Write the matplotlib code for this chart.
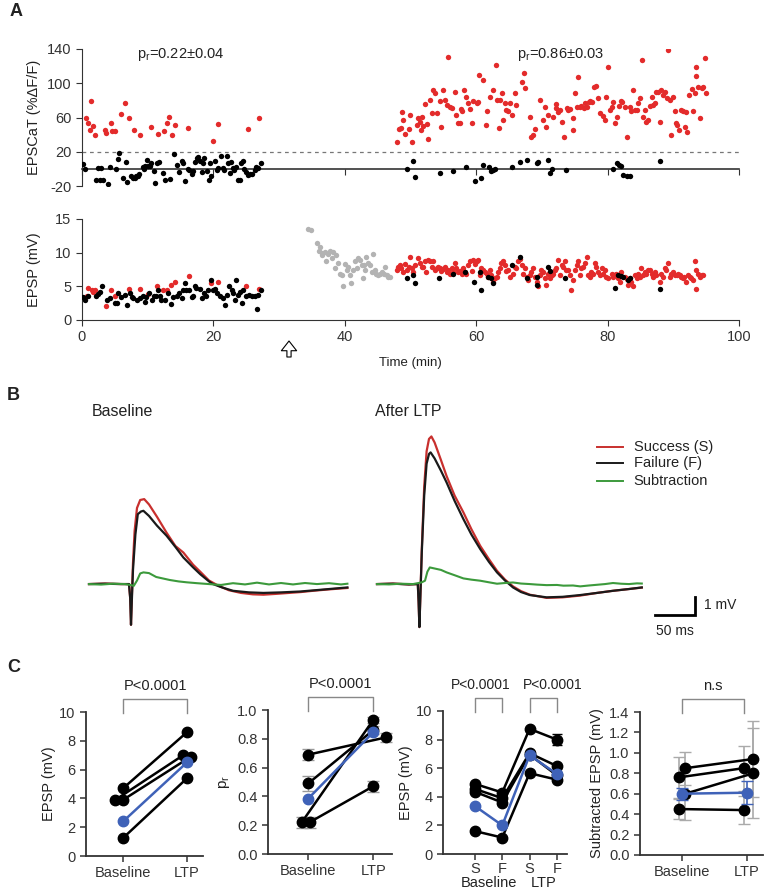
import numpy as np
import matplotlib
matplotlib.use('Agg')
import matplotlib.pyplot as plt
import matplotlib.transforms as mtransforms

plt.rcParams['font.family'] = ['Liberation Sans', 'DejaVu Sans']
plt.rcParams['axes.unicode_minus'] = False
plt.rcParams['text.color'] = '#222222'
plt.rcParams['axes.labelcolor'] = '#222222'
plt.rcParams['xtick.color'] = '#333333'
plt.rcParams['ytick.color'] = '#333333'
plt.rcParams['axes.edgecolor'] = '#333333'

RED = '#e32b2b'
TRACE_RED = '#c8302e'
GREEN = '#3c9a3c'
GREY = '#b3b3b3'
BLUE = '#3f62b8'

# ---------------- A: EPSCaT (time min, %dF/F) ----------------
catA_base_succ = [(0.65, 60), (0.9, 53), (1.17, 45), (1.4, 79), (1.67, 50), (1.93, 40), (3.45, 45), (3.7, 42),
                  (4.46, 54), (4.6, 44), (4.97, 44), (5.9, 64), (6.5, 77), (7.15, 60), (7.9, 45), (8.9, 40),
                  (10.45, 49), (11.5, 41), (12.5, 44), (12.95, 53), (13.2, 61), (13.75, 40), (14.2, 51),
                  (16.2, 48), (19.9, 33), (20.7, 52), (25.3, 47), (27.0, 59)]
catA_base_fail = [(0.15, 5.5), (0.41, -0.4), (2.18, -13.3), (2.43, 1.6), (2.69, -12.5), (2.94, 1.2), (3.2, -13.3),
                  (3.96, -17.2), (4.2, 2.3), (5.2, -0.4), (5.48, 11), (5.63, 18.8), (6.24, -10.6), (6.75, 7.8),
                  (6.9, -15.6), (7.5, -8.6), (7.76, -10.6), (8.0, -10.2), (8.27, -7.8), (8.52, -8.2), (8.6, -5.5),
                  (9.28, 2.3), (9.38, 0), (9.53, 3.9), (9.94, 10.2), (10.05, 3.1), (10.3, 3.9), (10.55, 7),
                  (10.96, -2), (11.16, -16), (11.47, 7), (11.67, 7.8), (12.33, -4.7), (12.69, -13.3),
                  (13.35, -12.1), (14.0, 16.8), (14.4, 5.1), (14.75, -3.1), (15.15, 9.4), (15.4, 7),
                  (15.66, -14.5), (16.07, 0), (16.27, -1.6), (16.68, -5.5), (16.93, -2.3), (17.2, 8.6),
                  (17.45, 12.5), (17.7, 14), (17.96, 9.4), (18.2, -3.9), (18.47, 7), (18.6, 12.9), (18.98, -2.7),
                  (19.3, -13.3), (19.5, 7), (19.7, -7.8), (20.2, 9), (20.5, -1.6), (20.7, 1.6), (21.2, 14.9),
                  (21.5, 1.2), (21.6, -1.6), (22.0, 14.9), (22.2, 7.4), (22.5, -4.3), (22.7, 8.6), (23.0, 1.2),
                  (23.2, -1.6), (23.5, 2.3), (23.7, -13.3), (24.0, -12.5), (24.2, 7), (24.5, 9), (24.7, 0.4),
                  (25.0, -3.9), (25.3, -6.6), (25.5, -5.5), (25.9, -5.9), (26.3, -1.6), (26.5, 2.3), (26.8, 1.2),
                  (27.2, 7)]
catA_ltp_succ = [(47.9, 30.9), (48.25, 46.1), (48.55, 47.3), (48.65, 66.9), (48.9, 57.1), (49.2, 40.7), (49.7, 46.1),
                 (49.9, 63), (50.2, 31.7), (51.0, 51.2), (51.2, 59), (51.4, 55.1), (51.6, 45.4), (51.8, 61),
                 (51.95, 50), (52.2, 75.5), (52.5, 52.4), (52.6, 34.8), (53.0, 80.5), (53.2, 64.9), (53.5, 92.3),
                 (53.7, 88.4), (54.0, 64.9), (54.5, 79.4), (54.7, 49.3), (55.0, 92.3), (55.2, 80.5), (55.5, 74.7),
                 (55.75, 130.2), (56.0, 72.7), (56.3, 70.8), (56.8, 90.3), (57.0, 63), (57.3, 53.2), (57.5, 53.2),
                 (57.7, 69.6), (57.9, 68), (58.1, 92.3), (58.5, 84.5), (58.8, 76.6), (59.05, 69.6), (59.3, 53.2),
                 (59.5, 79.4), (60.1, 76.6), (60.3, 78.6), (60.5, 109.9), (61.1, 104), (61.5, 51.2), (61.7, 68),
                 (62.1, 84.5), (62.6, 92.3), (63.0, 121.6), (63.2, 80.5), (63.4, 47.3), (63.6, 80.5), (63.9, 88.4),
                 (64.1, 57.1), (64.4, 76.6), (64.6, 68.8), (64.9, 68), (65.1, 76.6), (65.4, 63), (65.9, 88.4),
                 (66.1, 74.7), (66.9, 102), (67.2, 111.8), (67.4, 94.2), (68.2, 61), (68.4, 37.5), (68.7, 39.5),
                 (69.0, 46.1), (69.7, 80.5), (70.1, 57.1), (70.5, 72.7), (70.7, 48.5), (71.0, 63), (71.7, 61),
                 (72.1, 75.9), (72.2, 70.8), (72.5, 66.9), (72.8, 68.8), (73.1, 55.1), (73.3, 36.8), (73.8, 70.8),
                 (74.0, 68.8), (74.3, 69.6), (74.7, 59), (74.8, 45.4), (75.0, 88.4), (75.3, 72.7), (75.5, 107.1),
                 (75.8, 72.7), (76.0, 73.5), (76.4, 70.8), (76.6, 77.4), (76.8, 72.7), (77.1, 78.6), (77.3, 79.8),
                 (77.6, 78.6), (77.9, 96.2), (78.3, 97), (78.6, 82.5), (78.8, 64.9), (79.3, 61.8), (79.6, 57.1),
                 (79.8, 84.5), (80.1, 118.9), (80.3, 68.8), (80.6, 72.7), (80.85, 78.6), (81.1, 53.2), (81.4, 61),
                 (81.7, 73.5), (82.0, 79.4), (82.2, 78.2), (82.6, 72.7), (83.0, 36.8), (83.4, 72.7), (83.6, 68),
                 (83.9, 92.3), (84.1, 68.8), (84.4, 68.8), (84.65, 76.6), (84.9, 82.5), (85.2, 127.5), (85.4, 61),
                 (85.7, 68.8), (85.9, 55.1), (86.2, 57.1), (86.4, 73.5), (86.7, 84.5), (86.9, 74.7), (87.2, 76.6),
                 (87.4, 90.3), (87.7, 90.3), (87.9, 55.1), (88.2, 92.3), (88.5, 86.4), (88.7, 90.3), (89.0, 82.5),
                 (89.2, 139.2), (89.5, 80.5), (89.7, 39.5), (90.0, 83.7), (90.2, 68), (90.4, 53.2), (90.6, 51.2),
                 (90.9, 45.4), (91.2, 68.8), (91.5, 68), (91.75, 49.3), (92.0, 66.9), (92.1, 43.4), (92.4, 86.4),
                 (92.8, 93.1), (93.0, 68), (93.3, 88.4), (93.4, 118.5), (93.5, 107.9), (93.8, 96.2), (94.0, 59),
                 (94.3, 94.2), (94.5, 96.2), (94.8, 129.4), (95.05, 88.4)]
catA_ltp_fail = [(49.4, -0.4), (50.4, 9), (50.7, -9.4), (54.5, -4.3), (56.4, -2.7), (58.4, 2.3), (59.8, -14.1),
                 (60.7, -10.2), (61.0, 5.1), (62.0, 2.3), (62.3, -2.7), (62.6, -1.6), (62.85, 0.4), (65.4, 2.3),
                 (66.65, 8.2), (67.7, 10.9), (69.2, 6.3), (69.4, 8.2), (71.0, 10.2), (71.2, -4.3), (71.5, 0.4),
                 (73.6, -1.6), (80.85, -0.4), (81.5, 6.3), (81.8, 4.3), (82.0, 3.5), (82.4, -7.4), (82.9, -8.2),
                 (83.4, -8.6), (87.9, 9.4)]

# ---------------- A: EPSP (time min, mV) ----------------
epsp_base_succ = [(0.8, 3.5), (0.96, 4.7), (1.47, 4.4), (1.72, 4.2), (1.98, 4.5), (3.65, 2.1), (4.4, 4.5),
                  (5.0, 3.5), (7.2, 4.6), (8.8, 4.6), (10.1, 3.9), (11.4, 5.0), (12.4, 4.5), (12.9, 4.5),
                  (13.6, 5.2), (14.1, 5.7), (16.3, 6.5), (19.7, 5.5), (20.7, 5.6), (25.0, 5.0), (27.0, 4.6)]
epsp_base_fail = [(0.2, 3.4), (0.46, 3.0), (0.96, 3.5), (2.2, 3.6), (2.5, 3.9), (2.7, 4.2), (3.1, 5.1), (3.85, 3.0),
                  (4.3, 3.2), (5.0, 2.5), (5.3, 2.5), (5.5, 4.0), (6.0, 3.4), (6.5, 3.7), (6.9, 2.2), (7.3, 4.0),
                  (7.55, 3.4), (7.8, 3.2), (8.3, 3.0), (8.8, 3.2), (9.3, 3.5), (9.6, 2.7), (9.8, 3.4), (10.2, 4.0),
                  (10.6, 3.0), (10.95, 3.5), (11.25, 3.5), (11.6, 4.5), (11.9, 3.5), (12.1, 2.9), (12.6, 3.0),
                  (13.1, 4.0), (13.5, 2.4), (13.9, 3.4), (14.4, 3.5), (14.8, 4.0), (15.2, 3.2), (15.4, 4.5),
                  (15.7, 5.5), (15.9, 4.5), (16.3, 4.5), (16.7, 3.4), (16.9, 3.5), (17.2, 5.0), (17.4, 4.7),
                  (17.9, 4.6), (18.2, 3.2), (18.6, 4.0), (18.9, 3.6), (19.2, 4.5), (19.6, 6.0), (20.0, 4.5),
                  (20.2, 4.6), (20.6, 4.0), (21.0, 3.5), (21.4, 3.2), (21.75, 2.3), (22.0, 3.7), (22.4, 5.0),
                  (22.8, 4.5), (23.0, 4.0), (23.3, 3.0), (23.5, 6.0), (23.8, 3.7), (24.0, 4.2), (24.3, 2.5),
                  (24.5, 4.5), (24.9, 3.5), (25.45, 3.7), (25.8, 3.5), (26.3, 3.5), (26.6, 1.7), (26.8, 3.7),
                  (27.3, 4.4)]
epsp_induction = [(34.45, 13.5), (34.8, 13.4), (35.7, 11.4), (36.0, 10.2), (36.3, 10.9), (36.5, 9.7), (36.6, 9.9),
                  (37.0, 10.1), (37.2, 8.7), (37.5, 9.8), (37.7, 10.3), (38.0, 9.2), (38.25, 10.1), (38.5, 7.7),
                  (38.7, 9.6), (38.9, 8.4), (39.3, 6.9), (39.5, 6.7), (39.7, 5.1), (40.0, 8.3), (40.3, 7.4),
                  (40.5, 7.9), (40.8, 6.7), (40.9, 5.5), (41.3, 7.4), (41.5, 8.7), (41.8, 7.7), (42.0, 9.2),
                  (42.3, 8.9), (42.6, 8.2), (42.7, 6.2), (42.9, 8.2), (43.1, 7.4), (43.3, 9.4), (43.6, 8.4),
                  (43.8, 8.2), (44.1, 7.2), (44.3, 9.8), (44.6, 7.4), (44.8, 6.9), (45.1, 6.7), (45.35, 6.9),
                  (45.6, 7.2), (45.9, 6.9), (46.1, 7.9), (46.4, 6.7), (46.6, 6.4), (46.9, 6.4)]
epsp_ltp_succ = [(47.9, 7.4), (48.1, 7.9), (48.4, 8.2), (48.6, 7.7), (48.9, 7.2), (49.15, 8.3), (49.4, 7.4),
                 (49.7, 7.8), (49.9, 9.4), (50.2, 7.7), (50.4, 7.2), (50.7, 8.2), (51.2, 9.2), (51.4, 8.4),
                 (51.7, 7.8), (51.9, 7.9), (52.2, 8.7), (52.4, 7.2), (52.7, 8.9), (52.95, 8.8), (53.2, 7.9),
                 (53.5, 8.8), (53.7, 7.4), (54.0, 7.7), (54.2, 7.9), (54.5, 7.7), (54.7, 7.3), (55.0, 7.6),
                 (55.2, 7.8), (55.5, 7.2), (55.7, 7.4), (56.0, 6.9), (56.25, 7.7), (56.5, 7.2), (56.8, 8.4),
                 (57.0, 7.7), (57.3, 7.1), (57.5, 7.3), (57.8, 6.8), (58.0, 7.7), (58.3, 7.2), (58.5, 6.8),
                 (58.8, 8.2), (59.0, 8.7), (59.3, 7.3), (59.5, 8.9), (59.8, 8.3), (60.05, 8.8), (60.3, 8.9),
                 (60.6, 6.7), (60.8, 7.7), (61.1, 7.4), (61.3, 7.1), (61.6, 6.9), (61.8, 6.4), (62.1, 7.4),
                 (62.3, 6.7), (62.6, 5.7), (62.8, 6.2), (63.1, 6.4), (63.35, 7.1), (63.6, 7.7), (63.85, 8.4),
                 (64.1, 8.7), (64.4, 8.2), (64.6, 7.3), (64.9, 7.4), (65.1, 6.4), (65.6, 6.9), (65.9, 7.9),
                 (66.1, 7.7), (66.4, 8.7), (66.6, 9.1), (66.9, 8.2), (67.1, 6.9), (67.4, 7.7), (67.7, 6.4),
                 (67.9, 6.0), (68.2, 6.7), (68.4, 7.2), (68.7, 7.7), (68.9, 6.4), (69.2, 5.7), (69.4, 5.0),
                 (69.7, 6.7), (69.9, 7.4), (70.2, 7.2), (70.4, 6.2), (70.7, 5.2), (70.95, 6.9), (71.2, 6.2),
                 (71.5, 6.7), (71.7, 6.9), (72.0, 7.4), (72.2, 7.7), (72.5, 8.9), (72.7, 6.7), (73.0, 8.2),
                 (73.2, 7.9), (73.5, 8.7), (73.7, 7.4), (74.0, 7.4), (74.25, 6.7), (74.5, 4.5), (74.8, 6.0),
                 (75.0, 7.4), (75.3, 8.2), (75.5, 8.7), (75.8, 6.7), (76.0, 7.7), (76.3, 7.9), (76.5, 8.4),
                 (76.8, 9.3), (77.0, 6.7), (77.3, 6.4), (77.5, 7.2), (77.8, 6.9), (78.05, 8.4), (78.3, 7.9),
                 (78.6, 7.2), (78.8, 6.7), (79.1, 7.7), (79.3, 6.9), (79.6, 7.4), (79.8, 6.4), (80.1, 6.2),
                 (80.6, 6.9), (80.8, 6.4), (81.1, 6.7), (81.35, 6.9), (81.6, 6.3), (81.85, 5.7), (82.1, 7.2),
                 (82.6, 6.4), (82.9, 6.1), (83.1, 5.2), (83.4, 6.2), (83.6, 5.7), (83.9, 5.0), (84.1, 6.7),
                 (84.4, 6.2), (84.6, 6.9), (84.9, 6.4), (85.1, 7.7), (85.4, 6.7), (85.65, 7.2), (85.9, 6.9),
                 (86.2, 7.4), (86.4, 7.4), (86.7, 6.9), (86.9, 6.4), (87.2, 7.2), (87.4, 6.7), (87.9, 5.7),
                 (88.2, 6.9), (88.4, 6.4), (88.7, 7.7), (88.95, 7.4), (89.2, 8.4), (89.5, 6.4), (89.7, 6.9),
                 (90.0, 7.2), (90.2, 6.7), (90.5, 6.7), (90.7, 6.9), (91.0, 6.7), (91.2, 6.4), (91.5, 6.2),
                 (91.7, 6.4), (92.0, 5.7), (92.2, 6.7), (92.5, 6.4), (92.75, 6.2), (93.0, 6.0), (93.3, 8.7),
                 (93.4, 4.6), (93.5, 7.4), (93.8, 6.9), (94.0, 6.4), (94.3, 6.7), (94.5, 6.7)]
epsp_ltp_fail = [(49.4, 6.3), (50.4, 6.7), (50.7, 5.5), (54.4, 6.2), (56.4, 6.9), (58.3, 7.2), (59.6, 5.7),
                 (60.8, 4.5), (60.6, 7.2), (61.8, 6.4), (62.2, 6.2), (62.6, 5.5), (65.4, 8.2), (66.6, 9.3),
                 (67.7, 6.2), (69.2, 6.4), (69.3, 5.2), (71.0, 7.8), (71.2, 7.3), (73.5, 6.2), (81.1, 4.8),
                 (81.6, 6.7), (82.1, 6.6), (82.4, 6.4), (83.1, 6.0), (83.4, 6.2), (87.9, 4.6)]

# ---------------- B: averaged traces (ms from trace start, mV) ----------------
base_succ_trace = [(0, 0), (20, 0.03), (40, 0), (50, 0), (51.5, -0.8), (52.5, -2.3), (53.5, -0.8), (55, 1.2),
                   (57, 3.0), (60, 4.3), (64, 4.75), (69, 4.8), (75, 4.5), (85, 3.8), (97, 2.9), (108, 2.15),
                   (118, 1.78), (130, 1.1), (139, 0.7), (150, 0.2), (162, -0.1), (175, -0.35), (190, -0.5),
                   (205, -0.58), (218, -0.6), (235, -0.55), (250, -0.5), (265, -0.45), (280, -0.38), (300, -0.3),
                   (323, -0.22)]
base_fail_trace = [(0, 0), (20, 0.02), (40, 0), (50, 0), (51.5, -0.8), (52.5, -2.3), (53.5, -1.0), (55, 0.8),
                   (58, 2.8), (61, 3.95), (65, 4.1), (68, 4.14), (75, 3.85), (85, 3.3), (97, 2.73), (108, 2.1),
                   (118, 1.5), (130, 0.95), (139, 0.56), (150, 0.15), (155, 0), (167, -0.2), (180, -0.38),
                   (200, -0.47), (218, -0.5), (240, -0.47), (264, -0.42), (290, -0.32), (323, -0.19)]
base_sub_trace = [(0, 0), (15, -0.03), (30, 0.02), (45, 0), (52, -0.05), (56, -0.1), (60, 0.2), (64, 0.6),
                  (68, 0.66), (75, 0.62), (84, 0.4), (92, 0.32), (101, 0.23), (112, 0.15), (122, 0.1), (135, 0.05),
                  (150, 0), (165, -0.05), (180, 0.05), (195, -0.02), (210, 0.08), (225, -0.02), (240, 0.06),
                  (255, -0.02), (270, 0.06), (285, 0), (300, 0.05), (315, -0.02), (323, 0.02)]
ltp_succ_trace = [(0, 0), (20, 0.03), (40, -0.02), (51, 0), (52, -1.0), (53, -2.43), (54, -1.0), (56, 2.0),
                  (59, 5.5), (62, 7.5), (65, 8.2), (68, 8.34), (72, 8.0), (80, 7.0), (87, 6.1), (97, 5.0),
                  (108, 4.05), (118, 3.1), (129, 2.16), (140, 1.4), (150, 0.75), (160, 0.25), (170, -0.13),
                  (180, -0.4), (191, -0.6), (212, -0.78), (232, -0.75), (254, -0.65), (275, -0.5), (295, -0.38),
                  (315, -0.28), (331, -0.2)]
ltp_fail_trace = [(0, 0), (20, 0.02), (40, -0.02), (51, 0), (52, -1.0), (53, -2.43), (54, -1.0), (56, 1.8),
                  (59, 5.0), (62, 6.8), (65, 7.35), (67, 7.44), (72, 7.1), (80, 6.4), (87, 5.74), (97, 4.7),
                  (108, 3.67), (118, 2.8), (129, 1.98), (140, 1.25), (150, 0.66), (160, 0.2), (170, -0.19),
                  (180, -0.45), (191, -0.62), (212, -0.75), (232, -0.72), (254, -0.62), (275, -0.5),
                  (295, -0.38), (315, -0.28), (331, -0.19)]
ltp_sub_trace = [(0, 0), (15, -0.02), (30, 0.02), (45, 0), (52, 0.06), (56, 0.1), (60, 0.19), (63, 0.7),
                 (66, 0.94), (72, 0.88), (80, 0.8), (87, 0.66), (97, 0.5), (108, 0.32), (118, 0.25), (129, 0.19),
                 (140, 0.1), (150, 0.02), (160, 0.06), (170, 0.09), (180, 0.03), (191, 0), (200, -0.03),
                 (212, -0.06), (225, -0.05), (233, -0.09), (245, -0.08), (254, -0.13), (265, -0.08),
                 (275, -0.04), (285, 0.0), (295, 0.06), (305, 0.02), (315, 0.0), (325, 0.04), (331, 0.03)]

# ---------------- C: summary ----------------
c1_base = [4.7, 3.9, 3.9, 1.25]
c1_ltp = [8.6, 7.0, 6.9, 5.4]
c1_mean = [2.4, 6.5]

c2_base = [0.69, 0.49, 0.22, 0.22]
c2_base_err = [0.04, 0.05, 0.04, 0.04]
c2_ltp = [0.81, 0.86, 0.93, 0.47]
c2_ltp_err = [0.03, 0.03, 0.02, 0.04]
c2_mean = [0.385, 0.845]

c3_labels = ['S', 'F', 'S', 'F']
c3_cells = [[4.9, 4.3, 8.75, 8.0],
            [4.55, 3.9, 7.05, 6.15],
            [4.35, 3.6, 6.95, 5.5],
            [1.6, 1.15, 5.65, 5.2]]
c3_ltp_f_err = [0.4, 0, 0, 0]
c3_mean = [3.35, 2.0, 6.9, 5.6]

c4_base = [0.85, 0.76, 0.60, 0.45]
c4_base_err = [0.16, 0.20, 0.26, 0.10]
c4_ltp = [0.94, 0.85, 0.80, 0.44]
c4_ltp_err = [0.37, 0.22, 0.44, 0.14]
c4_mean = [0.60, 0.61]
c4_mean_err = [0.06, 0.11]

W, H = 767, 891
fig = plt.figure(figsize=(W / 100, H / 100), dpi=100)


def px_axes(l, t, r, b):
    return fig.add_axes([l / W, 1 - b / H, (r - l) / W, (b - t) / H])


def arr(pairs):
    a = np.array(pairs, dtype=float)
    return a[:, 0], a[:, 1]


DOT = 15

# ---- A top ----
ax = px_axes(82, 49, 739, 186)
for data, c in [(catA_base_succ, RED), (catA_ltp_succ, RED), (catA_base_fail, 'black'), (catA_ltp_fail, 'black')]:
    x, y = arr(data)
    ax.scatter(x, y, s=DOT, color=c, linewidths=0, zorder=3)
ax.axhline(20, color='#777777', lw=0.9, ls=(0, (3, 3)))
ax.set_xlim(0, 100)
ax.set_ylim(-20, 140)
ax.spines['top'].set_visible(False)
ax.spines['right'].set_visible(False)
ax.spines['bottom'].set_position(('data', 0))
ax.spines['bottom'].set_linewidth(1.2)
ax.set_xticks([0, 20, 40, 60, 80, 100])
ax.set_xticklabels([])
ax.set_yticks([-20, 20, 60, 100, 140])
ax.tick_params(labelsize=10.5, length=4)
ax.set_ylabel('EPSCaT (%ΔF/F)', fontsize=10.5, labelpad=4)
ax.text(15, 134, r'p$_\mathregular{r}$=0.22±0.04', ha='center', va='center', fontsize=10.5)
ax.text(72.8, 134, r'p$_\mathregular{r}$=0.86±0.03', ha='center', va='center', fontsize=10.5)

# ---- A bottom ----
ax = px_axes(82, 219, 739, 320)
for data, c in [(epsp_base_succ, RED), (epsp_base_fail, 'black'), (epsp_induction, GREY),
                (epsp_ltp_succ, RED), (epsp_ltp_fail, 'black')]:
    x, y = arr(data)
    ax.scatter(x, y, s=DOT, color=c, linewidths=0, zorder=3)
ax.set_xlim(0, 100)
ax.set_ylim(0, 15)
ax.spines['top'].set_visible(False)
ax.spines['right'].set_visible(False)
ax.set_xticks([0, 20, 40, 60, 80, 100])
ax.set_yticks([0, 5, 10, 15])
ax.tick_params(labelsize=10.5, length=4)
ax.set_ylabel('EPSP (mV)', fontsize=10.5, labelpad=10)
ax.set_xlabel('Time (min)', fontsize=9.5, labelpad=9)
ax.annotate('', xy=(289 / W, 1 - 341 / H), xytext=(289 / W, 1 - 357 / H), xycoords='figure fraction',
            textcoords='figure fraction',
            arrowprops=dict(facecolor='white', edgecolor='black', width=3, headwidth=11, headlength=7, lw=0.8))

# ---- B ----
ax = px_axes(80, 420, 720, 640)
ax.set_xlim(0, 800)
ax.set_ylim(-3.16, 9.27)
ax.axis('off')
for traces, off in [((base_sub_trace, base_succ_trace, base_fail_trace), 11.25),
                    ((ltp_sub_trace, ltp_succ_trace, ltp_fail_trace), 371.25)]:
    sub, succ, fail = traces
    x, y = arr(succ)
    ax.plot(x + off, y, color=TRACE_RED, lw=1.6)
    x, y = arr(fail)
    ax.plot(x + off, y, color='#1a1a1a', lw=1.6)
    x, y = arr(sub)
    ax.plot(x + off, y, color=GREEN, lw=1.5)
fig.text(92 / W, 1 - 411 / H, 'Baseline', fontsize=11.5, va='center')
fig.text(375 / W, 1 - 411 / H, 'After LTP', fontsize=11.5, va='center')
for lab, c, yy in [('Success (S)', TRACE_RED, 7.74), ('Failure (F)', '#1a1a1a', 6.84), ('Subtraction', GREEN, 5.82)]:
    ax.plot([646, 679], [yy, yy], color=c, lw=1.4)
    ax.text(692, yy, lab, fontsize=10.5, va='center')
ax.plot([718.75, 768.75, 768.75], [-1.75, -1.75, -0.75], color='black', lw=2, solid_joinstyle='miter')
ax.text(780, -1.2, '1 mV', fontsize=10, va='center')
ax.text(743.75, -2.65, '50 ms', fontsize=10, va='center', ha='center')


def style_c(ax):
    ax.spines['top'].set_visible(False)
    ax.spines['right'].set_visible(False)
    ax.spines['left'].set_linewidth(1.3)
    ax.spines['bottom'].set_linewidth(1.3)
    ax.tick_params(labelsize=10.5, length=4, width=1.1)


def bracket(ax, x0, x1, text, top_px=13, h=144, tx=None, fs=10.5):
    tr = mtransforms.blended_transform_factory(ax.transData, ax.transAxes)
    yt = 1 + top_px / h
    ax.plot([x0, x0, x1, x1], [0.99, yt, yt, 0.99], color='#888888', lw=1, transform=tr, clip_on=False)
    if tx is None:
        tx = (x0 + x1) / 2
    ax.text(tx, yt + 13 / h, text, ha='center', va='center', fontsize=fs, transform=tr)


MS = 7.5

# ---- C1 ----
ax = px_axes(86, 712, 203, 856)
jit_b = [0, -0.12, 0, 0]
jit_l = [0, -0.06, 0.06, 0]
for i in range(len(c1_base)):
    ax.plot([0 + jit_b[i], 1 + jit_l[i]], [c1_base[i], c1_ltp[i]], '-o', color='black', lw=1.8, ms=MS)
ax.plot([0, 1], c1_mean, '-o', color=BLUE, lw=1.8, ms=MS, zorder=4)
ax.set_xlim(-0.58, 1.25)
ax.set_ylim(0, 10)
ax.set_yticks([0, 2, 4, 6, 8, 10])
ax.set_xticks([0, 1])
ax.set_xticklabels(['Baseline', 'LTP'])
ax.set_ylabel('EPSP (mV)', fontsize=10.5, labelpad=2)
style_c(ax)
bracket(ax, 0, 1, 'P<0.0001')

# ---- C2 ----
ax = px_axes(268, 710, 392, 854)
jit_b = [0, 0, -0.1, 0.02]
jit_l = [0.2, 0, 0, 0]
for i in range(len(c2_base)):
    xb, xl = 0 + jit_b[i], 1 + jit_l[i]
    ax.errorbar([xb, xl], [c2_base[i], c2_ltp[i]], yerr=[c2_base_err[i], c2_ltp_err[i]], fmt='none',
                ecolor='#999999', elinewidth=1, capsize=4, zorder=1)
    ax.plot([xb, xl], [c2_base[i], c2_ltp[i]], '-o', color='black', lw=1.8, ms=MS, zorder=2)
ax.plot([0, 1], c2_mean, '-o', color=BLUE, lw=1.8, ms=MS, zorder=4)
ax.set_xlim(-0.62, 1.29)
ax.set_ylim(0, 1.0)
ax.set_yticks([0, 0.2, 0.4, 0.6, 0.8, 1.0])
ax.set_yticklabels(['0.0', '0.2', '0.4', '0.6', '0.8', '1.0'])
ax.set_xticks([0, 1])
ax.set_xticklabels(['Baseline', 'LTP'])
ax.set_ylabel(r'p$_\mathregular{r}$', fontsize=11)
style_c(ax)
bracket(ax, 0, 1, 'P<0.0001')

# ---- C3 ----
ax = px_axes(443, 711, 567, 854)
xs = np.arange(4)
for i, row in enumerate(c3_cells):
    ax.plot(xs, row, '-o', color='black', lw=1.8, ms=MS, zorder=2)
    if c3_ltp_f_err[i] > 0:
        ax.errorbar([3], [row[3]], yerr=[c3_ltp_f_err[i]], fmt='none', ecolor='black', elinewidth=1,
                    capsize=3.5, zorder=1)
ax.plot(xs, c3_mean, '-o', color=BLUE, lw=1.8, ms=MS, zorder=4)
ax.set_xlim(-1.17, 3.37)
ax.set_ylim(0, 10)
ax.set_yticks([0, 2, 4, 6, 8, 10])
ax.set_xticks(xs)
ax.set_xticklabels(c3_labels)
ax.set_ylabel('EPSP (mV)', fontsize=10.5, labelpad=2)
style_c(ax)
ax.tick_params(axis='x', pad=1.5)
tr = mtransforms.blended_transform_factory(ax.transData, ax.transAxes)
ax.text(0.5, -0.205, 'Baseline', ha='center', va='center', fontsize=10.5, transform=tr)
ax.text(2.5, -0.205, 'LTP', ha='center', va='center', fontsize=10.5, transform=tr)
bracket(ax, 0, 1, 'P<0.0001', h=143, tx=0.2, fs=10)
bracket(ax, 2, 3, 'P<0.0001', h=143, tx=2.84, fs=10)

# ---- C4 ----
ax = px_axes(640, 712, 763, 855)
jit_b = [0.05, -0.05, 0.05, -0.05]
jit_l = [0.1, -0.05, 0.1, -0.05]
for i in range(len(c4_base)):
    xb, xl = 0 + jit_b[i], 1 + jit_l[i]
    ax.errorbar([xb, xl], [c4_base[i], c4_ltp[i]], yerr=[c4_base_err[i], c4_ltp_err[i]], fmt='none',
                ecolor='#aaaaaa', elinewidth=1.2, capsize=4, zorder=1)
    ax.plot([xb, xl], [c4_base[i], c4_ltp[i]], '-o', color='black', lw=1.8, ms=MS, zorder=2)
ax.errorbar([0, 1], c4_mean, yerr=c4_mean_err, fmt='-o', color=BLUE, ecolor=BLUE, lw=1.8, ms=MS,
            elinewidth=1.2, capsize=4, zorder=4)
ax.set_xlim(-0.65, 1.25)
ax.set_ylim(0, 1.4)
ax.set_yticks(np.arange(0, 1.41, 0.2))
ax.set_yticklabels(['0.0', '0.2', '0.4', '0.6', '0.8', '1.0', '1.2', '1.4'])
ax.set_xticks([0, 1])
ax.set_xticklabels(['Baseline', 'LTP'])
ax.set_ylabel('Subtracted EPSP (mV)', fontsize=10.5)
style_c(ax)
bracket(ax, 0, 0.95, 'n.s', h=143)

# panel letters
fig.text(10 / W, 1 - 12 / H, 'A', fontsize=13, fontweight='bold', va='center')
fig.text(7 / W, 1 - 395 / H, 'B', fontsize=13, fontweight='bold', va='center')
fig.text(7 / W, 1 - 667 / H, 'C', fontsize=13, fontweight='bold', va='center')

fig.savefig('out.png', dpi=100)
